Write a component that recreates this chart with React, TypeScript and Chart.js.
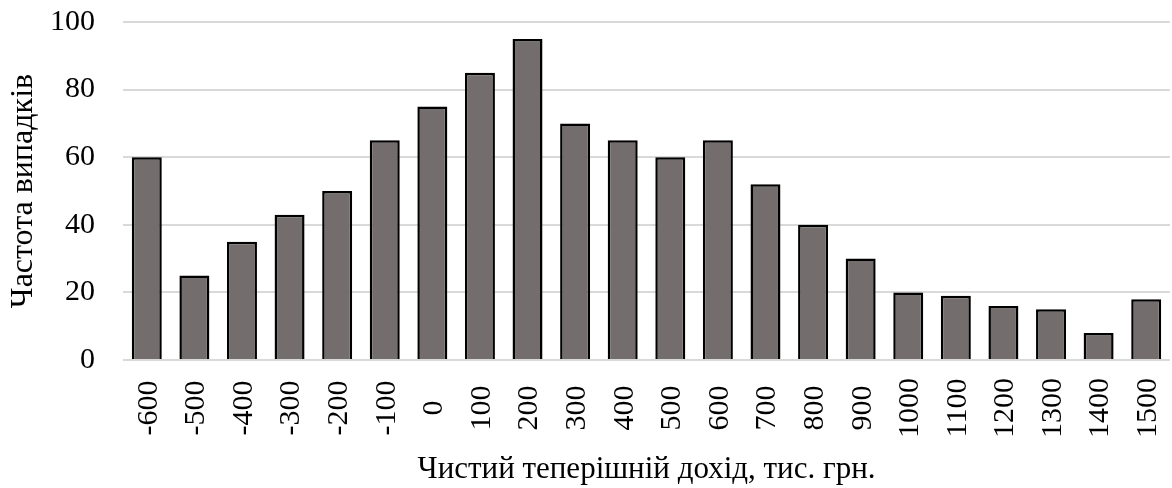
import React, { useEffect, useRef } from "react";
import { Chart, registerables } from "chart.js";

Chart.register(...registerables);

const categories = ["-600", "-500", "-400", "-300", "-200", "-100", "0", "100", "200", "300", "400", "500", "600", "700", "800", "900", "1000", "1100", "1200", "1300", "1400", "1500"];
const frequencies = [60, 25, 35, 43, 50, 65, 75, 85, 95, 70, 65, 60, 65, 52, 40, 30, 20, 19, 16, 15, 8, 18];
const yTicks = [0, 20, 40, 60, 80, 100];
const xTitle = "Чистий теперішній дохід, тис. грн.";
const yTitle = "Частота випадків";

const FONT = "'Liberation Serif', 'Times New Roman', serif";

const centeredXLabels = {
  id: "centeredXLabels",
  afterDraw(chart: any) {
    const ctx = chart.ctx;
    const xs = chart.scales.x;
    const labels = chart.data.labels as string[];
    const cy = xs.top + 48;
    ctx.save();
    ctx.fillStyle = "#000";
    ctx.font = `30px ${FONT}`;
    ctx.textAlign = "center";
    ctx.textBaseline = "middle";
    labels.forEach((lab, i) => {
      const x = xs.getPixelForValue(i);
      ctx.save();
      ctx.translate(x + 2, cy);
      ctx.rotate(-Math.PI / 2);
      ctx.fillText(lab, 0, 0);
      ctx.restore();
    });
    ctx.restore();
  },
};

export default function App() {
  const ref = useRef<HTMLCanvasElement | null>(null);
  useEffect(() => {
    document.body.style.margin = "0";
    const chart = new Chart(ref.current!, {
      type: "bar",
      data: {
        labels: categories,
        datasets: [
          {
            data: frequencies,
            backgroundColor: "#736e6d",
            borderColor: "#000000",
            borderWidth: 2.5,
            categoryPercentage: 0.63,
            barPercentage: 1,
          },
        ],
      },
      plugins: [centeredXLabels],
      options: {
        animation: false,
        responsive: false,
        layout: { padding: { top: 22, right: 2, left: 0, bottom: 0 } },
        plugins: { legend: { display: false }, tooltip: { enabled: false } },
        scales: {
          x: {
            grid: { display: false },
            border: { display: false },
            ticks: { display: false },
            afterFit: (s: any) => {
              s.height = 128;
              s.paddingLeft = 0;
              s.paddingRight = 0;
            },
            title: {
              display: true,
              text: xTitle,
              color: "#000",
              font: { family: FONT, size: 31 },
              padding: { top: 0, bottom: 0 },
            },
          },
          y: {
            min: 0,
            max: 100,
            afterBuildTicks: (s: any) => {
              s.ticks = yTicks.map((v) => ({ value: v }));
            },
            afterFit: (s: any) => {
              s.width = 123;
              s.paddingTop = 0;
              s.paddingBottom = 0;
            },
            grid: { color: "#d9d9d9", lineWidth: 2, drawTicks: false },
            border: { display: false },
            ticks: {
              color: "#000",
              font: { family: FONT, size: 30 },
              padding: 28,
            },
            title: {
              display: true,
              text: yTitle,
              color: "#000",
              font: { family: FONT, size: 32 },
              padding: { top: 4, bottom: 10 },
            },
          },
        },
      },
    });
    return () => chart.destroy();
  }, []);
  return <canvas ref={ref} width={1172} height={488} style={{ display: "block" }} />;
}
